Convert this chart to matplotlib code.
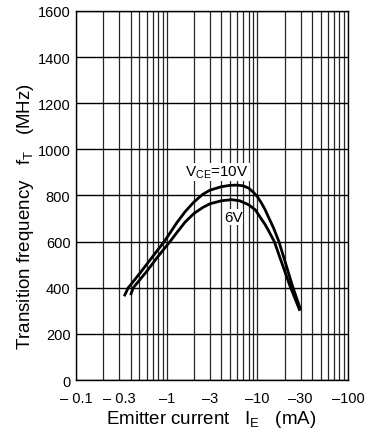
import matplotlib
matplotlib.use("Agg")
import matplotlib.pyplot as plt
from matplotlib.ticker import FixedLocator, LogLocator, NullFormatter

plt.rcParams['font.family'] = ['Liberation Sans', 'DejaVu Sans']
plt.rcParams['mathtext.fontset'] = 'custom'
plt.rcParams['mathtext.rm'] = 'Liberation Sans'
plt.rcParams['mathtext.it'] = 'Liberation Sans'

# Emitter current magnitude (mA) and transition frequency (MHz)
ie_10v = [0.34, 0.377, 0.5, 0.7, 0.94, 1.3, 1.6, 2.0, 2.5, 3.0, 4.0, 5.0, 6.0, 7.0, 8.0,
          9.0, 10.0, 11.0, 12.1, 13.5, 15.0, 17.3, 20.0, 24.3, 30.0]
ft_10v = [363, 400, 460, 535, 600, 683, 730, 772, 805, 823, 838, 844, 845, 842, 832,
          815, 795, 770, 741, 700, 662, 600, 520, 410, 305]

ie_6v = [0.40, 0.428, 0.6, 0.8, 1.087, 1.3, 1.6, 2.0, 2.5, 3.0, 4.0, 5.2, 6.4, 8.0,
         9.5, 11.0, 12.1, 13.2, 15.4, 19.0, 22.9, 29.5]
ft_6v = [368, 400, 470, 535, 600, 640, 685, 722, 748, 764, 777, 782, 777, 760,
         738, 700, 676, 650, 600, 498, 408, 300]

x_ticks = [0.1, 0.3, 1, 3, 10, 30, 100]
x_tick_labels = ['\u2013 0.1', '\u2013 0.3', '\u20131', '\u20133', '\u201310', '\u201330', '\u2013100']
y_ticks = [0, 200, 400, 600, 800, 1000, 1200, 1400, 1600]

fig = plt.figure(figsize=(3.76, 4.39), dpi=100)
ax = fig.add_axes([0.2021, 0.1321, 0.7234, 0.8406])

ax.set_xscale('log')
ax.set_xlim(0.1, 100)
ax.set_ylim(0, 1600)

ax.xaxis.set_major_locator(FixedLocator(x_ticks))
ax.xaxis.set_minor_locator(LogLocator(base=10, subs=range(2, 10)))
ax.xaxis.set_minor_formatter(NullFormatter())
ax.set_xticklabels(x_tick_labels)
ax.set_yticks(y_ticks)

ax.grid(True, which='major', axis='y', color='black', lw=1.0)
ax.grid(True, which='both', axis='x', color='#262626', lw=0.9)

ax.tick_params(axis='both', which='both', length=0, labelsize=10.5, colors='black')
ax.tick_params(axis='x', pad=8)
ax.tick_params(axis='y', pad=4)

for s in ax.spines.values():
    s.set_color('black')
    s.set_linewidth(1.0)

ax.plot(ie_10v, ft_10v, color='black', lw=2.0, solid_joinstyle='round', solid_capstyle='butt', zorder=3)
ax.plot(ie_6v, ft_6v, color='black', lw=2.0, solid_joinstyle='round', solid_capstyle='butt', zorder=3)

ax.text(3.6, 902, 'V$\\mathregular{_{CE}}$=10V', fontsize=11, ha='center', va='center', zorder=4,
        bbox=dict(facecolor='white', edgecolor='none', pad=0.5))
ax.text(5.45, 707, '6V', fontsize=11, ha='center', va='center', zorder=4,
        bbox=dict(facecolor='white', edgecolor='none', pad=0.5))

ax.set_xlabel('Emitter current   I$\\mathregular{_E}$   (mA)', fontsize=13.5)
ax.set_ylabel('Transition frequency   f$\\mathregular{_T}$   (MHz)', fontsize=13.5)
ax.xaxis.set_label_coords(0.498, -0.075)
ax.yaxis.set_label_coords(-0.147, 0.445)

fig.savefig('out.png', dpi=100)
